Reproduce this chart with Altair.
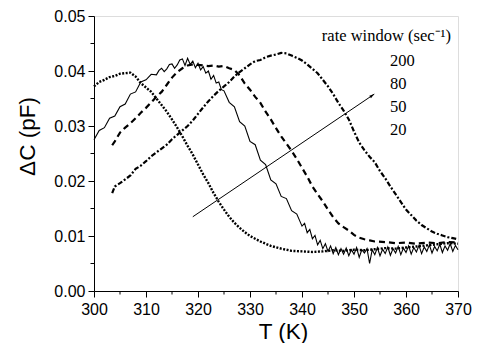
import altair as alt
import pandas as pd

# Curve A (dotted)
A_T = [300, 301, 302, 303, 304, 305, 306, 307, 308, 309, 310, 311, 312, 313, 314, 315, 316, 317, 318, 319,
       320, 321, 322, 323, 324, 325, 326, 327, 328, 329, 330, 332, 334, 336, 338, 340, 342, 344, 346, 348,
       350, 352, 354, 356, 358, 360, 362, 364, 366, 368, 370]
A_C = [0.0372, 0.0380, 0.0384, 0.0389, 0.0391, 0.0395, 0.0396, 0.0397, 0.0390, 0.0378, 0.0370, 0.0362, 0.0350,
       0.0338, 0.0326, 0.0312, 0.0297, 0.0281, 0.0264, 0.0248, 0.0230, 0.0212, 0.0196, 0.0178, 0.0162, 0.0148,
       0.0135, 0.0124, 0.0115, 0.0107, 0.0100, 0.0090, 0.0082, 0.0077, 0.0073, 0.0072, 0.0071, 0.0072, 0.0074,
       0.0073, 0.0075, 0.0074, 0.0076, 0.0078, 0.0077, 0.0079, 0.0081, 0.0083, 0.0085, 0.0087, 0.0086]

# Curve B (solid, noisy)
B_T = [300, 301, 302, 303, 304, 305, 306, 307, 308, 309, 310, 311, 312, 312.5, 313, 313.5, 314, 314.5, 315,
       315.5, 316, 316.5, 317, 317.5, 318, 318.5, 319, 319.5, 320, 320.5, 321, 321.5, 322, 322.5, 323, 323.5,
       324, 324.5, 325, 326, 327, 328, 329, 330, 331, 332, 333, 334, 335, 336, 337, 338, 339,
       340, 340.5, 341, 341.5, 342, 342.5, 343, 343.5, 344, 344.5, 345, 345.5, 346, 346.5, 347, 347.5,
       348, 348.5, 349, 349.5, 350, 350.5, 351, 351.5, 352, 352.5, 353, 353.5, 354, 354.5, 355, 355.5,
       356, 356.5, 357, 357.5, 358, 358.5, 359, 359.5, 360, 360.5, 361, 361.5, 362, 362.5, 363, 363.5,
       364, 364.5, 365, 365.5, 366, 366.5, 367, 367.5, 368, 368.5, 369, 369.5, 370]
B_C = [0.0275, 0.0292, 0.0297, 0.0314, 0.0318, 0.0335, 0.0340, 0.0358, 0.0362, 0.0380, 0.0384, 0.0394,
       0.0393, 0.0401, 0.0405, 0.0399, 0.0404, 0.0412, 0.0413, 0.0405, 0.0411, 0.0420, 0.0422, 0.0410,
       0.0423, 0.0412, 0.0418, 0.0406, 0.0414, 0.0402, 0.0408, 0.0396, 0.0400, 0.0385, 0.0392, 0.0378,
       0.0380, 0.0366, 0.0364, 0.0343, 0.0335, 0.0308, 0.0300, 0.0272, 0.0266, 0.0238, 0.0230, 0.0202,
       0.0195, 0.0172, 0.0168, 0.0146, 0.0140,
       0.0118, 0.0123, 0.0106, 0.0112, 0.0095, 0.0101, 0.0084, 0.0092, 0.0077, 0.0086, 0.0072, 0.0082,
       0.0068, 0.0079, 0.0066, 0.0077, 0.0067, 0.0078, 0.0064, 0.0075, 0.0067, 0.0079, 0.0061, 0.0075, 0.0069,
       0.0077, 0.0050, 0.0075, 0.0066, 0.0079, 0.0064, 0.0076, 0.0068, 0.0080, 0.0065, 0.0077, 0.0069, 0.0081,
       0.0066, 0.0078, 0.0070, 0.0082, 0.0067, 0.0079, 0.0071, 0.0083, 0.0068, 0.0080, 0.0072, 0.0084, 0.0069,
       0.0081, 0.0073, 0.0085, 0.0070, 0.0082, 0.0074, 0.0086, 0.0072, 0.0083, 0.0075]

# Curve C (dashed)
C_T = [303.5, 304, 305, 306, 307, 308, 309, 310, 311, 312, 313, 314, 315, 316, 317, 318, 319, 320, 321, 322,
       323, 324, 325, 326, 327, 328, 329, 330, 331, 332, 333, 334, 335, 336, 337, 338, 339, 340, 341, 342,
       343, 344, 345, 346, 347, 348, 349, 350, 351, 352, 353, 354, 356, 358, 360, 362, 364, 366, 368, 370]
C_C = [0.0265, 0.0272, 0.0288, 0.0297, 0.0305, 0.0314, 0.0324, 0.0333, 0.0343, 0.0353, 0.0362, 0.0375, 0.0388,
       0.0398, 0.0405, 0.0410, 0.0412, 0.0411, 0.0410, 0.0409, 0.0410, 0.0408, 0.0409, 0.0405, 0.0402, 0.0392,
       0.0377, 0.0366, 0.0353, 0.0342, 0.0326, 0.0312, 0.0296, 0.0281, 0.0268, 0.0255, 0.0240, 0.0224, 0.0208,
       0.0190, 0.0176, 0.0163, 0.0148, 0.0134, 0.0123, 0.0116, 0.0110, 0.0102, 0.0097, 0.0094, 0.0092, 0.0090,
       0.0089, 0.0087, 0.0088, 0.0086, 0.0088, 0.0087, 0.0089, 0.0088]

# Curve D (dash-dot)
D_T = [303.5, 304, 305, 306, 307, 308, 309, 310, 311, 312, 313, 314, 315, 316, 317, 318, 319, 320, 321, 322,
       323, 324, 325, 326, 327, 328, 329, 330, 331, 332, 333, 334, 335, 336, 337, 338, 339, 340, 341, 342,
       343, 344, 345, 346, 347, 348, 349, 350, 351, 352, 353, 354, 355, 356, 357, 358, 359, 360, 361, 362,
       363, 364, 365, 366, 367, 368, 369, 370]
D_C = [0.0178, 0.0190, 0.0196, 0.0203, 0.0210, 0.0222, 0.0228, 0.0236, 0.0245, 0.0252, 0.0259, 0.0266, 0.0276,
       0.0284, 0.0292, 0.0300, 0.0310, 0.0322, 0.0334, 0.0345, 0.0355, 0.0364, 0.0372, 0.0380, 0.0390, 0.0398,
       0.0405, 0.0412, 0.0418, 0.0420, 0.0425, 0.0428, 0.0430, 0.0433, 0.0432, 0.0428, 0.0424, 0.0419, 0.0412,
       0.0404, 0.0396, 0.0384, 0.0372, 0.0358, 0.0342, 0.0328, 0.0312, 0.0290, 0.0270, 0.0256, 0.0244, 0.0234,
       0.0218, 0.0205, 0.0190, 0.0176, 0.0162, 0.0148, 0.0138, 0.0128, 0.0120, 0.0114, 0.0108, 0.0104, 0.0101,
       0.0098, 0.0096, 0.0094]

ARROW_T = [319, 353.9]
ARROW_C = [0.0135, 0.0358]

X_TICKS = [300, 310, 320, 330, 340, 350, 360, 370]
X_MINOR = [305, 315, 325, 335, 345, 355, 365]
Y_TICKS = [0.00, 0.01, 0.02, 0.03, 0.04, 0.05]
Y_MINOR = [0.005, 0.015, 0.025, 0.035, 0.045]

LEGEND_TITLE = "rate window (sec\u207b\u00b9)"
RATES = ["200", "80", "50", "20"]

W, H = 364, 275
SANS = "Liberation Sans, Arial, Helvetica, sans-serif"
SERIF = "Liberation Serif, Times New Roman, Times, serif"

xs = alt.Scale(domain=[300, 370], nice=False, zero=False)
ys = alt.Scale(domain=[0, 0.05], nice=False, zero=False)
xaxis = alt.Axis(values=X_TICKS, format="d", title="T (K)", grid=False, tickSize=6,
                 labelPadding=4, labelFont=SANS, labelFontSize=16, labelColor="black",
                 labelFlush=False, labelOverlap=False,
                 titleFont=SANS, titleFontSize=22.5, titleFontWeight="normal", titleColor="black",
                 titleX=189, titleY=47, titleBaseline="alphabetic", titleAlign="center",
                 domainColor="black", tickColor="black")
yaxis = alt.Axis(values=Y_TICKS, format=".2f", title="\u0394C (pF)", grid=False, tickSize=6,
                 labelPadding=3, labelFont=SANS, labelFontSize=16, labelColor="black",
                 labelFlush=False, labelOverlap=False,
                 titleFont=SANS, titleFontSize=22.5, titleFontWeight="normal", titleColor="black",
                 titleAngle=270, titleX=-60, titleY=120, titleBaseline="alphabetic", titleAlign="center",
                 domainColor="black", tickColor="black")

def xe():
    return alt.X("T:Q", scale=xs, axis=xaxis)

def ye():
    return alt.Y("C:Q", scale=ys, axis=yaxis)

dfA = pd.DataFrame({"T": A_T, "C": A_C})
dfB = pd.DataFrame({"T": B_T, "C": B_C})
dfC = pd.DataFrame({"T": C_T, "C": C_C})
dfD = pd.DataFrame({"T": D_T, "C": D_C})
dfArrow = pd.DataFrame({"T": ARROW_T, "C": ARROW_C})
dfHead = pd.DataFrame({"T": ARROW_T[1:], "C": ARROW_C[1:]})

lineA = alt.Chart(dfA).mark_line(color="black", strokeWidth=2.4, strokeDash=[2, 1.5]).encode(x=xe(), y=ye(), order="T:Q")
lineB = alt.Chart(dfB).mark_line(color="black", strokeWidth=1.1).encode(x=xe(), y=ye(), order="T:Q")
lineC = alt.Chart(dfC).mark_line(color="black", strokeWidth=2.2, strokeDash=[6, 4]).encode(x=xe(), y=ye(), order="T:Q")
lineD = alt.Chart(dfD).mark_line(color="black", strokeWidth=2.2, strokeDash=[5, 2, 2, 2]).encode(x=xe(), y=ye(), order="T:Q")

arrow = alt.Chart(dfArrow).mark_line(color="black", strokeWidth=1).encode(x=xe(), y=ye())
head = alt.Chart(dfHead).mark_point(shape="M 0 0 L -1 -0.3 L -1 0.3 Z", filled=True, color="black",
                                    opacity=1, size=100, angle=326).encode(x=xe(), y=ye())

xminor = alt.Chart(pd.DataFrame({"T": X_MINOR})).mark_rule(color="black", strokeWidth=1).encode(
    x=xe(), y=alt.value(H), y2=alt.value(H + 3.5))
yminor = alt.Chart(pd.DataFrame({"C": Y_MINOR})).mark_rule(color="black", strokeWidth=1).encode(
    y=ye(), x=alt.value(0), x2=alt.value(-3.5))

title_txt = alt.Chart(pd.DataFrame({"t": [LEGEND_TITLE]})).mark_text(
    font=SERIF, fontSize=16.5, align="right", baseline="alphabetic", color="black").encode(
    text="t:N", x=alt.value(W - 7), y=alt.value(24.7))

rate_layers = []
for i, r in enumerate(RATES):
    rate_layers.append(alt.Chart(pd.DataFrame({"t": [r]})).mark_text(
        font=SERIF, fontSize=16.5, align="left", baseline="alphabetic", color="black").encode(
        text="t:N", x=alt.value(W - 68), y=alt.value(49.7 + i * 23.1)))

chart = alt.layer(lineA, lineB, lineC, lineD, arrow, head, xminor, yminor, title_txt, *rate_layers).properties(
    width=W, height=H,
    autosize=alt.AutoSizeParams(type="none"),
    padding={"left": 86, "top": 8, "right": 14, "bottom": 52},
).configure_view(stroke="#222", strokeWidth=1).configure(background="white")

chart.save("out.html", embed_options={"renderer": "svg", "actions": False})
